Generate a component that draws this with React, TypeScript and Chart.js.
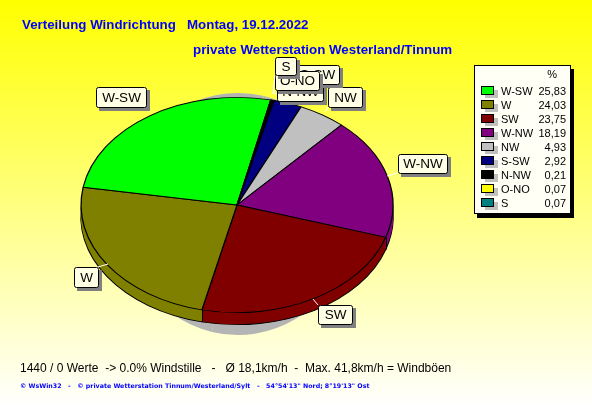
import React, { useEffect, useRef } from "react";
import { Chart, registerables } from "chart.js";

Chart.register(...registerables);

const categories = ["N-NW", "S-SW", "NW", "W-NW", "SW", "W", "W-SW", "O-NO", "S"];
const shares = [0.21, 2.92, 4.93, 18.19, 23.75, 24.03, 25.83, 0.07, 0.07];
const sliceColors = ["#000000", "#000080", "#C0C0C0", "#800080", "#800000", "#808000", "#00FF00", "#FFFF00", "#008080"];
const shareLabels = ["0,21", "2,92", "4,93", "18,19", "23,75", "24,03", "25,83", "0,07", "0,07"];
const legendOrder = ["W-SW", "W", "SW", "W-NW", "NW", "S-SW", "N-NW", "O-NO", "S"];
const titleLeft = "Verteilung Windrichtung   Montag, 19.12.2022";
const titleRight = "private Wetterstation Westerland/Tinnum";
const statLine = "1440 / 0 Werte  -> 0.0% Windstille   -   Ø 18,1km/h  -  Max. 41,8km/h = Windböen";
const footerLine = "© WsWin32   -   © private Wetterstation Tinnum/Westerland/Sylt   -   54°54'13\" Nord; 8°19'13\" Ost";
const labelBoxes: [string, number, number, number, number, number, number][] = [
  ["W-SW", 96, 87, 50, 20, 150, 112],
  ["W", 74, 267, 24, 20, 108, 264],
  ["SW", 318, 305, 34, 19, 313, 299],
  ["W-NW", 398, 154, 49, 19, 387, 176],
  ["NW", 328, 87, 34, 20, 325, 112],
  ["N-NW", 277, 81, 46, 20, 275, 94],
  ["S-SW", 295, 65, 44, 19, 290, 90],
  ["O-NO", 275, 71, 44, 19, 274, 94],
  ["S", 275, 57, 21, 18, 273, 94],
];

const PIE_X = 237;
const PIE_Y = 205;
const RADIUS = 156;
const SQUASH = 0.69;
const DEPTH = 12;

function squash(ctx: CanvasRenderingContext2D, dy = 0) {
  ctx.translate(PIE_X, PIE_Y + dy);
  ctx.scale(1, SQUASH);
  ctx.translate(-PIE_X, -PIE_Y);
}

const piePlugin = {
  id: "tiltedPie",
  beforeDraw(chart: any) {
    const { ctx, width, height } = chart;
    const g = ctx.createLinearGradient(0, 0, 0, height);
    g.addColorStop(0, "#FFFF00");
    g.addColorStop(1, "#FFFFFF");
    ctx.fillStyle = g;
    ctx.fillRect(0, 0, width, height);
  },
  beforeDatasetsDraw(chart: any) {
    const { ctx } = chart;
    const arcs = chart.getDatasetMeta(0).data;
    // soft shadow: a narrow tall ellipse peeking out above and below the pie
    ctx.save();
    ctx.translate(PIE_X + 1, PIE_Y + 9);
    ctx.scale(116 / RADIUS, 121 / RADIUS);
    ctx.translate(-PIE_X, -PIE_Y);
    arcs.forEach((a: any) => {
      const o = a.options;
      a.options = { ...o, borderWidth: 0, backgroundColor: "#B4B4B4" };
      a.draw(ctx);
      a.options = o;
    });
    ctx.restore();
    // pie wall
    ctx.save();
    squash(ctx, DEPTH);
    arcs.forEach((a: any) => a.draw(ctx));
    ctx.restore();
    for (let dy = DEPTH - 1; dy >= 1; dy--) {
      ctx.save();
      squash(ctx, dy);
      arcs.forEach((a: any) => {
        const o = a.options;
        a.options = { ...o, borderWidth: 0 };
        a.draw(ctx);
        a.options = o;
      });
      ctx.restore();
    }
    // vertical wall edges at the slice boundaries on the front side
    ctx.strokeStyle = "#000000";
    ctx.lineWidth = 1;
    arcs.forEach((a: any) => {
      const s = Math.sin(a.endAngle);
      const c = Math.cos(a.endAngle);
      if (s > 0) {
        const x = Math.round(PIE_X + c * RADIUS) + 0.5;
        const y = PIE_Y + s * RADIUS * SQUASH;
        ctx.beginPath();
        ctx.moveTo(x, y);
        ctx.lineTo(x, y + DEPTH);
        ctx.stroke();
      }
    });
    ctx.save();
    squash(ctx);
  },
  afterDatasetsDraw(chart: any) {
    const { ctx } = chart;
    ctx.restore();
    ctx.textBaseline = "middle";
    labelBoxes.forEach(([text, x, y, w, h, lx, ly]) => {
      ctx.strokeStyle = "#FFFFFF";
      ctx.lineWidth = 1;
      ctx.beginPath();
      ctx.moveTo(lx, ly);
      ctx.lineTo(Math.max(x, Math.min(lx, x + w)), Math.max(y, Math.min(ly, y + h)));
      ctx.stroke();
      ctx.fillStyle = "#808080";
      ctx.fillRect(x + 3, y + 3, w + 1, h + 1);
      ctx.fillStyle = "#FFFFE6";
      ctx.strokeStyle = "#000000";
      ctx.beginPath();
      ctx.roundRect(x + 0.5, y + 0.5, w, h, 2);
      ctx.fill();
      ctx.stroke();
      ctx.fillStyle = "#000000";
      ctx.textAlign = "center";
      ctx.font = "13.5px 'Liberation Sans'";
      ctx.fillText(text, x + w / 2 + 0.5, y + h / 2 + 1);
    });

    ctx.fillStyle = "#000000";
    ctx.fillRect(477, 69, 97, 149);
    ctx.fillStyle = "#FFFFF5";
    ctx.strokeStyle = "#000000";
    ctx.fillRect(474.5, 65.5, 96, 148);
    ctx.strokeRect(474.5, 65.5, 96, 148);
    ctx.textAlign = "right";
    ctx.fillStyle = "#000000";
    ctx.font = "11px 'Liberation Sans'";
    ctx.fillText("%", 557, 75);
    legendOrder.forEach((name, i) => {
      const idx = categories.indexOf(name);
      const y = 91 + i * 14;
      ctx.fillStyle = "#C0C0C0";
      ctx.fillRect(485, y - 1, 13, 8);
      ctx.fillStyle = sliceColors[idx];
      ctx.fillRect(481.5, y - 4.5, 12, 8);
      ctx.strokeStyle = "#000000";
      ctx.strokeRect(481.5, y - 4.5, 12, 8);
      ctx.fillStyle = "#000000";
      ctx.textAlign = "left";
      ctx.font = "11px 'Liberation Sans'";
      ctx.fillText(name, 501, y + 0.5);
      ctx.textAlign = "right";
      ctx.fillText(shareLabels[idx], 566, y + 0.5);
    });

    ctx.textAlign = "left";
    ctx.fillStyle = "#0000FF";
    ctx.font = "bold 13.33px 'Liberation Sans'";
    ctx.fillText(titleLeft, 22, 25.5);
    ctx.fillText(titleRight, 193, 50);
    ctx.fillStyle = "#000000";
    ctx.font = "12px 'Liberation Sans'";
    ctx.fillText(statLine, 20, 369);
    ctx.fillStyle = "#0000FF";
    ctx.font = "bold 6.3px 'DejaVu Sans'";
    ctx.fillText(footerLine, 20, 386);
  },
};

export default function App() {
  const ref = useRef<HTMLCanvasElement>(null);
  useEffect(() => {
    const chart = new Chart(ref.current!, {
      type: "pie",
      data: {
        labels: categories,
        datasets: [{
          data: shares,
          backgroundColor: sliceColors,
          borderColor: "#000000",
          borderWidth: 1.3,
          borderAlign: "center",
        }],
      },
      options: {
        responsive: false,
        animation: false,
        rotation: 13,
        radius: RADIUS,
        layout: { padding: { left: 75, right: 193, top: 43, bottom: 40 } },
        plugins: { legend: { display: false }, tooltip: { enabled: false } },
      } as any,
      plugins: [piePlugin],
    });
    return () => chart.destroy();
  }, []);
  return (
    <div style={{ position: "absolute", left: 0, top: 0, width: 592, height: 407 }}>
      <canvas ref={ref} width={592} height={407} style={{ display: "block" }} />
    </div>
  );
}
